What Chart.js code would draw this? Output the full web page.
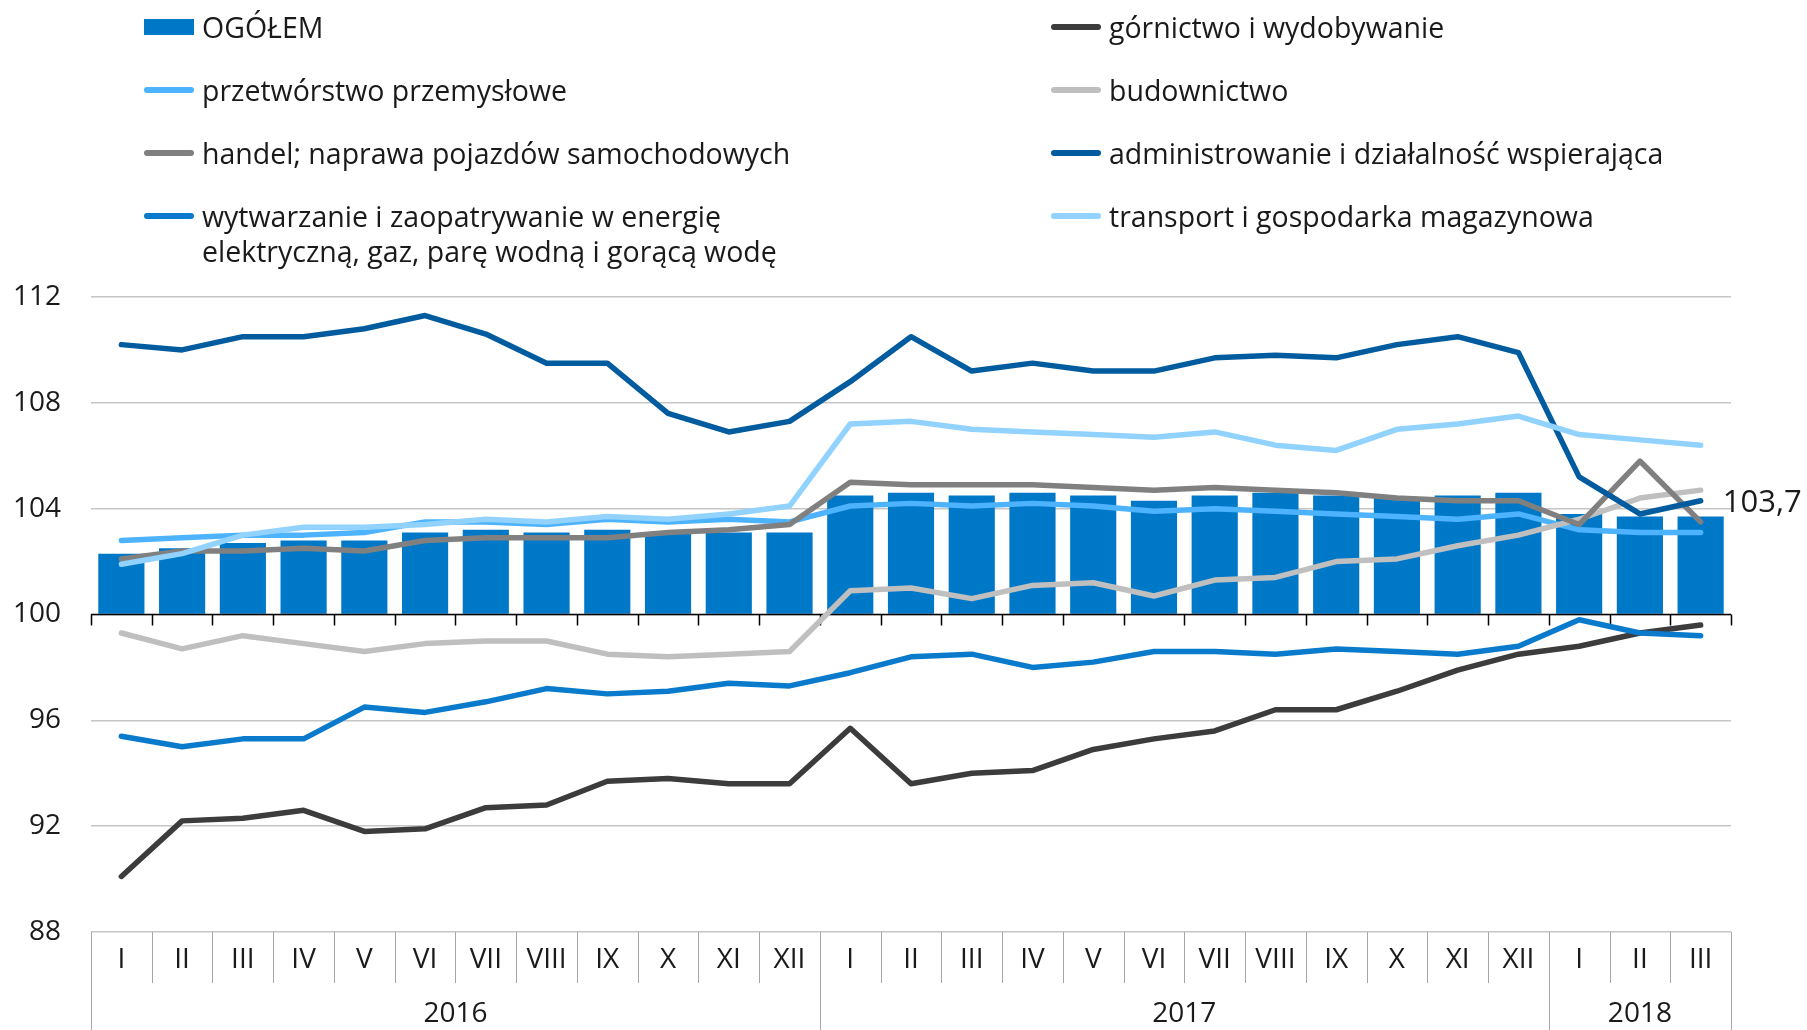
<!DOCTYPE html>
<html>
<head>
<meta charset="utf-8">
<script src="https://cdn.jsdelivr.net/npm/chart.js@4"></script>
<style>
  body { margin: 0; background: #fff; }
  #wrap { position: relative; width: 1807px; height: 1030px; }
  #legend { position: absolute; left: 0; top: 0; font-family: "Open Sans", sans-serif; font-size: 28.5px; color: #1a1a1a; }
  .item { position: absolute; line-height: 35px; white-space: nowrap; }
  .sw { position: absolute; left: -58px; top: 14px; width: 50px; height: 6px; border-radius: 3px; }
  .sw.box { top: 9px; height: 16px; border-radius: 0; }
</style>
</head>
<body>
<div id="wrap">
  <canvas id="chart"></canvas>
  <div id="legend"></div>
</div>
<script>
const months = ['I','II','III','IV','V','VI','VII','VIII','IX','X','XI','XII',
  'I','II','III','IV','V','VI','VII','VIII','IX','X','XI','XII','I','II','III']
const years = ['2016', '2017', '2018']
const yearSpans = [12, 12, 3]
const yTicks = [88, 92, 96, 100, 104, 108, 112]

const ogolem = [102.3,102.5,102.7,102.8,102.8,103.1,103.2,103.1,103.2,103.1,103.1,103.1,
  104.5,104.6,104.5,104.6,104.5,104.3,104.5,104.6,104.5,104.4,104.5,104.6,103.8,103.7,103.7]
const gornictwo = [90.1,92.2,92.3,92.6,91.8,91.9,92.7,92.8,93.7,93.8,93.6,93.6,
  95.7,93.6,94.0,94.1,94.9,95.3,95.6,96.4,96.4,97.1,97.9,98.5,98.8,99.3,99.6]
const przetworstwo = [102.8,102.9,103.0,103.0,103.1,103.5,103.5,103.4,103.6,103.5,103.6,103.5,
  104.1,104.2,104.1,104.2,104.1,103.9,104.0,103.9,103.8,103.7,103.6,103.8,103.2,103.1,103.1]
const budownictwo = [99.3,98.7,99.2,98.9,98.6,98.9,99.0,99.0,98.5,98.4,98.5,98.6,
  100.9,101.0,100.6,101.1,101.2,100.7,101.3,101.4,102.0,102.1,102.6,103.0,103.6,104.4,104.7]
const handel = [102.1,102.4,102.4,102.5,102.4,102.8,102.9,102.9,102.9,103.1,103.2,103.4,
  105.0,104.9,104.9,104.9,104.8,104.7,104.8,104.7,104.6,104.4,104.3,104.3,103.4,105.8,103.5]
const administrowanie = [110.2,110.0,110.5,110.5,110.8,111.3,110.6,109.5,109.5,107.6,106.9,107.3,
  108.8,110.5,109.2,109.5,109.2,109.2,109.7,109.8,109.7,110.2,110.5,109.9,105.2,103.8,104.3]
const wytwarzanie = [95.4,95.0,95.3,95.3,96.5,96.3,96.7,97.2,97.0,97.1,97.4,97.3,
  97.8,98.4,98.5,98.0,98.2,98.6,98.6,98.5,98.7,98.6,98.5,98.8,99.8,99.3,99.2]
const transport = [101.9,102.3,103.0,103.3,103.3,103.4,103.6,103.5,103.7,103.6,103.8,104.1,
  107.2,107.3,107.0,106.9,106.8,106.7,106.9,106.4,106.2,107.0,107.2,107.5,106.8,106.6,106.4]

const seriesNames = ['OGÓŁEM', 'górnictwo i wydobywanie', 'przetwórstwo przemysłowe', 'budownictwo',
  'handel; naprawa pojazdów samochodowych', 'administrowanie i działalność wspierająca',
  'wytwarzanie i zaopatrywanie w energię\nelektryczną, gaz, parę wodną i gorącą wodę',
  'transport i gospodarka magazynowa']
const seriesColors = ['#0078c8', '#3c3c3c', '#4db3ff', '#bfbfbf', '#808080', '#005c9e', '#0a7bcc', '#91d2ff']
const seriesData = [ogolem, gornictwo, przetworstwo, budownictwo, handel, administrowanie, wytwarzanie, transport]

const fontFam = '"Open Sans", sans-serif'

// legend in two columns
const legend = document.getElementById('legend')
seriesNames.forEach((name, i) => {
  const el = document.createElement('div')
  el.className = 'item'
  el.style.left = (i % 2 === 0 ? 202 : 1109) + 'px'
  el.style.top = (10 + Math.floor(i / 2) * 63) + 'px'
  el.innerHTML = name.split('\n').join('<br>')
  const sw = document.createElement('span')
  sw.className = i === 0 ? 'sw box' : 'sw'
  sw.style.background = seriesColors[i]
  el.appendChild(sw)
  legend.appendChild(el)
})

const datasets = seriesData.map((d, i) => i === 0 ? {
  type: 'bar', label: seriesNames[i], data: d, base: 100,
  backgroundColor: seriesColors[i], barPercentage: 0.76, categoryPercentage: 1, order: 20
} : {
  type: 'line', label: seriesNames[i], data: d, borderColor: seriesColors[i],
  borderWidth: 5.5, pointRadius: 0, tension: 0, borderCapStyle: 'round', borderJoinStyle: 'round', order: 10 - i
})

// axis line at 100, month/year table, last value label
const tablePlugin = {
  id: 'table',
  afterDatasetDraw(chart, args) {
    if (args.meta.type !== 'bar') return
    const { ctx, chartArea: a, scales: { x, y } } = chart
    const y100 = y.getPixelForValue(100)
    const step = x.getPixelForValue(1) - x.getPixelForValue(0)
    ctx.save()
    ctx.strokeStyle = '#000'
    ctx.lineWidth = 1.5
    ctx.beginPath()
    ctx.moveTo(a.left, y100); ctx.lineTo(a.right, y100)
    for (let i = 0; i <= months.length; i++) {
      const px = Math.round(x.getPixelForValue(i) - step / 2) + 0.5
      ctx.moveTo(px, y100); ctx.lineTo(px, y100 + 11)
    }
    ctx.stroke()
    ctx.restore()
  },
  afterDraw(chart) {
    const { ctx, chartArea: a, scales: { x, y } } = chart
    const step = x.getPixelForValue(1) - x.getPixelForValue(0)
    const top = a.bottom
    const rowB = top + 51
    const bottom = chart.height
    ctx.save()
    ctx.strokeStyle = '#a6a6a6'
    ctx.lineWidth = 1
    ctx.beginPath()
    const yearEdges = [0]
    yearSpans.forEach(s => yearEdges.push(yearEdges[yearEdges.length - 1] + s))
    for (let i = 0; i <= months.length; i++) {
      const px = Math.round(x.getPixelForValue(i) - step / 2) + 0.5
      ctx.moveTo(px, top)
      ctx.lineTo(px, yearEdges.includes(i) ? bottom : rowB)
    }
    ctx.stroke()
    ctx.fillStyle = '#1a1a1a'
    ctx.font = '28px ' + fontFam
    ctx.textAlign = 'center'
    ctx.textBaseline = 'middle'
    months.forEach((m, i) => ctx.fillText(m, x.getPixelForValue(i), top + 28))
    years.forEach((yr, k) => {
      const l = x.getPixelForValue(yearEdges[k]) - step / 2
      const r = x.getPixelForValue(yearEdges[k + 1]) - step / 2
      ctx.fillText(yr, (l + r) / 2, top + 82)
    })
    // value label on last bar
    const last = ogolem.length - 1
    const meta = chart.getDatasetMeta(0)
    const bar = meta.data[last]
    ctx.font = '31px ' + fontFam
    ctx.textAlign = 'left'
    ctx.fillText(ogolem[last].toFixed(1).replace('.', ','), bar.x + bar.width / 2 - 1, y.getPixelForValue(ogolem[last]) - 13)
    ctx.restore()
  }
}

new Chart(document.getElementById('chart'), {
  data: { labels: months, datasets },
  options: {
    responsive: true,
    maintainAspectRatio: false,
    animation: false,
    layout: { padding: { top: 297, right: 76, bottom: 98, left: 0 } },
    plugins: { legend: { display: false }, tooltip: { enabled: false } },
    scales: {
      x: { display: false, offset: true },
      y: {
        min: 88, max: 112,
        afterBuildTicks: s => { s.ticks = yTicks.map(v => ({ value: v })) },
        afterFit: s => { s.width = 91 },
        border: { display: false },
        grid: { color: '#c6c6c6', lineWidth: 1.5, drawTicks: false },
        ticks: { padding: 30, color: '#1a1a1a', font: { family: fontFam, size: 28 } }
      }
    }
  },
  plugins: [tablePlugin]
})
</script>
</body>
</html>
